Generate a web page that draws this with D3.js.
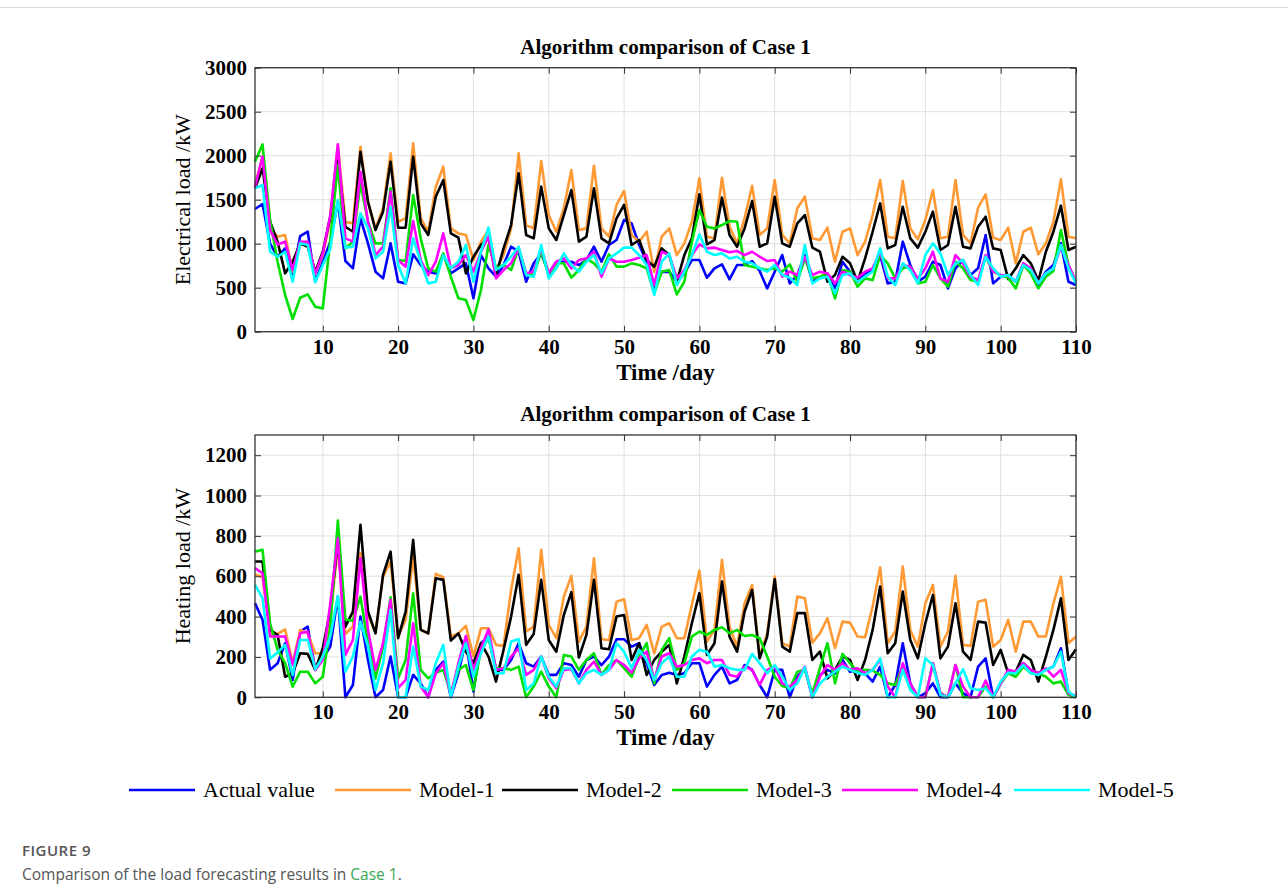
<!DOCTYPE html>
<html><head><meta charset="utf-8">
<script src="https://cdn.jsdelivr.net/npm/d3@7/dist/d3.min.js"></script>
<style>body{margin:0;background:#fff;} svg{display:block;}</style>
</head><body>
<svg id="c" width="1288" height="890"></svg>
<script>
// ---------------- DATA ----------------
const days = d3.range(1, 111);
const xTickValues = [10,20,30,40,50,60,70,80,90,100,110];
const elecTicks = [0,500,1000,1500,2000,2500,3000];
const heatTicks = [0,200,400,600,800,1000,1200];
const seriesNames = ["Actual value","Model-1","Model-2","Model-3","Model-4","Model-5"];

const elecActual = [1394,1451,1000,852,947,644,1087,1136,568,795,1023,1477,803,720,1288,1004,682,606,1004,568,549,879,758,682,663,879,663,720,
 777,379,871,720,625,758,966,909,568,777,890,663,795,795,795,758,814,966,795,985,1042,1269,1231,985,795,492,682,680,
 568,663,814,814,614,720,765,595,758,758,803,689,492,682,871,549,644,871,568,614,644,492,795,682,568,663,701,871,
 549,568,1023,758,568,625,795,758,492,720,814,644,720,1099,549,625,644,568,758,682,530,682,758,1004,568,530];
const elecM1 = [1667,1989,1174,1080,1099,682,985,1004,663,871,1269,2121,1250,1231,2102,1477,1174,1402,2027,1250,1288,2140,1288,1136,1648,1875,1174,1117,
 1099,814,1023,1155,701,871,1174,2027,1212,1174,1939,1326,1136,1402,1837,1155,1174,1886,1174,1080,1440,1599,1099,1023,1136,682,1080,1174,
 871,1004,1250,1742,1080,1061,1750,1193,1004,1288,1659,1099,1174,1724,1099,1004,1402,1534,1061,1042,1182,795,1136,1174,871,1023,1326,1724,
 1080,1061,1712,1174,1049,1269,1610,1061,1080,1724,1099,1004,1409,1561,1068,1042,1182,777,1136,1182,879,1004,1250,1731,1080,1061];
const elecM2 = [1629,1856,1250,1023,663,795,1004,966,682,909,1307,1989,1193,1136,2045,1477,1155,1364,1932,1182,1182,1989,1231,1099,1534,1724,1117,1068,
 663,852,985,1061,644,947,1212,1799,1099,1061,1648,1174,1042,1326,1610,1023,1080,1629,1061,1004,1288,1440,985,1042,814,739,947,871,
 568,871,1061,1561,992,1042,1523,1099,966,1174,1485,966,1004,1534,1004,966,1231,1326,955,909,568,644,852,777,568,833,1136,1458,
 947,985,1420,1061,955,1136,1364,928,985,1420,966,947,1193,1307,947,928,598,720,871,777,576,909,1136,1432,928,966];
const elecM3 = [1932,2129,1269,795,417,144,386,424,284,265,1042,1894,947,1023,1686,1250,1004,1004,1629,814,803,1553,1061,720,682,890,625,380,
 360,133,474,985,720,758,701,947,663,644,909,644,777,777,614,701,833,777,682,879,739,739,777,758,720,436,682,701,
 424,568,1023,1383,1193,1174,1212,1258,1250,758,739,720,701,720,682,765,568,833,606,625,663,379,701,682,511,606,587,871,
 777,606,720,739,549,568,758,606,511,795,720,587,568,852,682,644,614,492,758,663,492,625,689,1155,758,568];
const elecM4 = [1648,1989,1155,992,1023,701,1023,1023,663,890,1326,2129,1061,1023,1818,1250,871,966,1591,814,739,1258,814,644,795,1117,720,758,
 871,682,909,1080,606,701,777,947,663,682,947,663,795,833,720,814,833,909,625,833,795,795,814,841,871,530,909,871,
 606,701,871,992,947,955,928,902,917,871,909,852,803,814,625,682,644,852,644,682,663,549,682,644,614,682,720,909,
 606,606,758,739,606,720,909,606,568,871,777,625,587,871,682,644,636,568,777,720,549,663,720,966,758,568];
const elecM5 = [1629,1667,909,852,909,568,1004,985,561,758,947,1496,955,966,1345,1174,833,909,1420,758,549,1061,795,549,568,871,720,795,
 985,568,909,1182,701,758,852,966,644,625,985,606,720,890,758,682,795,871,663,833,890,955,955,871,758,417,795,890,
 530,682,871,1106,909,871,890,833,852,795,777,720,682,758,644,614,530,985,549,606,625,436,644,663,568,625,682,947,
 625,530,777,701,549,871,1004,890,644,777,814,644,530,852,720,625,644,568,758,701,549,663,720,985,720,549];

const heatActual = [466,384,136,169,268,86,326,350,136,193,251,499,0,61,400,185,0,36,202,0,0,111,69,0,136,177,0,119,
 284,28,268,301,136,136,185,268,169,152,202,111,111,169,160,102,185,202,160,202,288,288,251,268,169,61,111,122,
 111,119,169,169,53,111,152,69,86,160,136,61,0,136,136,0,102,144,0,111,136,119,185,127,136,119,78,152,
 0,61,268,69,0,20,69,0,0,69,20,0,152,193,0,69,127,127,169,136,119,136,152,243,20,0];
const heatM1 = [607,598,309,314,337,169,334,317,218,218,384,755,314,350,714,408,321,598,673,301,384,698,337,317,612,595,301,317,
 354,202,342,342,260,255,532,739,326,350,731,359,293,499,602,276,350,689,288,284,474,486,284,293,359,218,350,367,
 293,293,458,628,276,334,681,350,251,466,557,202,317,598,268,251,499,491,271,317,392,243,375,370,301,298,450,644,
 268,326,648,334,251,466,557,251,326,602,260,255,474,483,251,284,384,226,375,375,301,301,466,598,268,301];
const heatM2 = [673,673,334,309,102,119,218,215,136,243,433,772,350,425,855,425,317,607,722,293,425,780,334,317,590,582,281,317,
 226,169,268,202,78,235,400,607,260,314,582,284,226,408,521,197,309,582,243,238,400,408,185,268,111,185,226,260,
 69,202,367,516,210,268,574,301,226,425,532,193,301,585,251,226,417,417,185,226,94,136,202,185,86,185,334,549,
 218,268,524,284,193,367,507,193,251,466,226,185,375,370,160,235,119,127,210,185,78,202,334,491,185,238];
const heatM3 = [722,731,367,235,169,53,127,127,69,102,350,876,384,380,499,268,94,251,496,94,185,516,136,94,122,136,20,136,
 160,36,235,293,144,144,136,152,0,53,127,53,0,210,202,136,185,218,111,160,185,144,102,202,268,69,235,293,
 136,169,301,326,309,334,347,317,334,304,309,293,202,102,56,45,127,136,20,144,268,69,215,169,127,136,132,111,
 69,61,152,45,0,0,169,20,0,160,0,0,0,53,0,69,119,102,152,119,119,102,69,78,12,0];
const heatM4 = [640,615,301,301,301,160,317,326,136,185,466,788,210,284,689,334,136,268,483,45,86,367,53,0,119,169,12,169,
 304,136,243,337,136,144,202,243,111,136,202,94,45,136,139,69,136,177,111,136,185,160,122,193,226,86,202,218,
 152,160,185,193,169,185,185,111,102,152,136,61,136,152,69,53,86,152,0,102,160,136,169,136,144,119,136,185,
 53,0,169,69,0,0,169,20,0,160,53,0,0,83,0,69,136,127,169,136,119,144,102,136,20,7];
const heatM5 = [557,491,193,222,260,111,284,284,139,202,301,502,127,202,375,251,36,169,433,0,0,251,53,36,169,260,0,152,
 268,102,218,301,119,119,276,288,36,69,202,102,53,144,144,69,119,136,111,136,268,226,144,235,185,86,169,202,
 102,102,202,235,226,152,160,144,136,136,215,169,119,160,102,36,69,149,0,69,102,127,152,136,122,111,136,193,
 0,0,136,36,0,193,160,12,0,69,139,45,36,45,0,78,122,119,160,119,111,136,152,226,28,0];

// ---------------- STYLE ----------------
const colors = ["#0000ff","#ff9933","#000000","#00e000","#ff00ff","#00ffff"];
const serif = "'Liberation Serif','Times New Roman',serif";

const svg = d3.select("#c");
svg.append("line").attr("x1",0).attr("x2",1288).attr("y1",7.5).attr("y2",7.5)
  .attr("stroke","#dcdcdc").attr("stroke-width",1);

const xLeft = 255, xRight = 1076;
const x = d3.scaleLinear().domain([1,110]).range([xLeft,xRight]);

function panel(opts){
  const {top,bottom,yMax,yTicks,title,ylabel,series} = opts;
  const y = d3.scaleLinear().domain([0,yMax]).range([bottom,top]);
  const g = svg.append("g");
  // grid
  g.append("g").selectAll("line").data(xTickValues).join("line")
    .attr("x1",d=>x(d)).attr("x2",d=>x(d)).attr("y1",top).attr("y2",bottom)
    .attr("stroke","#e0e0e0").attr("stroke-width",1);
  g.append("g").selectAll("line").data(yTicks).join("line")
    .attr("x1",xLeft).attr("x2",xRight).attr("y1",d=>y(d)).attr("y2",d=>y(d))
    .attr("stroke","#e0e0e0").attr("stroke-width",1);
  // lines
  const line = d3.line().x((d,i)=>x(days[i])).y(d=>y(d));
  series.forEach((s,k)=>{
    g.append("path").datum(s).attr("d",line).attr("fill","none")
      .attr("stroke",colors[k]).attr("stroke-width",2.6).attr("stroke-linejoin","round");
  });
  // axes
  const ax = g.append("g").attr("transform",`translate(0,${bottom})`)
    .call(d3.axisBottom(x).tickValues(xTickValues).tickSizeInner(-6).tickSizeOuter(0).tickPadding(7).tickFormat(d3.format("d")));
  const axT = g.append("g").attr("transform",`translate(0,${top})`)
    .call(d3.axisTop(x).tickValues(xTickValues).tickSizeInner(-6).tickSizeOuter(0).tickFormat(""));
  const ay = g.append("g").attr("transform",`translate(${xLeft},0)`)
    .call(d3.axisLeft(y).tickValues(yTicks).tickSizeInner(-6).tickSizeOuter(0).tickPadding(8).tickFormat(d3.format("d")));
  const ayR = g.append("g").attr("transform",`translate(${xRight},0)`)
    .call(d3.axisRight(y).tickValues(yTicks).tickSizeInner(-6).tickSizeOuter(0).tickFormat(""));
  [ax,axT,ay,ayR].forEach(a=>{
    a.select(".domain").remove();
    a.selectAll(".tick line").attr("stroke","#333");
    a.selectAll("text").attr("font-family",serif).attr("font-weight","bold")
      .attr("font-size",21).attr("fill","#000");
  });
  g.append("rect").attr("x",xLeft).attr("y",top).attr("width",xRight-xLeft).attr("height",bottom-top)
    .attr("fill","none").attr("stroke","#333").attr("stroke-width",1.3);
  // title
  g.append("text").attr("x",(xLeft+xRight)/2).attr("y",top-14).attr("text-anchor","middle")
    .attr("font-family",serif).attr("font-weight","bold").attr("font-size",21).text(title);
  g.append("text").attr("x",(xLeft+xRight)/2).attr("y",bottom+48).attr("text-anchor","middle")
    .attr("font-family",serif).attr("font-weight","bold").attr("font-size",23).text("Time /day");
  g.append("text").attr("transform",`translate(190,${(top+bottom)/2}) rotate(-90)`)
    .attr("text-anchor","middle").attr("font-family",serif).attr("font-size",22).text(ylabel);
}

panel({top:67.7,bottom:331.7,yMax:3000,yTicks:elecTicks,title:"Algorithm comparison of Case 1",
  ylabel:"Electrical load /kW",series:[elecActual,elecM1,elecM2,elecM3,elecM4,elecM5]});
panel({top:435,bottom:697.3,yMax:1300,yTicks:heatTicks,title:"Algorithm comparison of Case 1",
  ylabel:"Heating load /kW",series:[heatActual,heatM1,heatM2,heatM3,heatM4,heatM5]});

// legend
const legX = [129,335,502,672,842,1014];
const leg = svg.append("g");
seriesNames.forEach((n,k)=>{
  const lineLen = k===0 ? 66 : 76;
  leg.append("line").attr("x1",legX[k]).attr("x2",legX[k]+lineLen).attr("y1",790).attr("y2",790)
    .attr("stroke",colors[k]).attr("stroke-width",2.6);
  leg.append("text").attr("x",legX[k]+lineLen+8).attr("y",797).attr("font-family",serif)
    .attr("font-size",22).text(n);
});

// caption
svg.append("text").attr("x",22).attr("y",856).attr("font-family","'Open Sans','Noto Sans',sans-serif")
  .attr("font-size",15).attr("font-weight",600).attr("fill","#555").attr("letter-spacing",0.5).text("FIGURE 9");
const cap = svg.append("text").attr("x",22).attr("y",880).attr("font-family","'Open Sans','Noto Sans',sans-serif")
  .attr("font-size",15.5).attr("fill","#555");
cap.append("tspan").text("Comparison of the load forecasting results in ");
cap.append("tspan").attr("fill","#3aa655").text("Case 1");
cap.append("tspan").text(".");
</script>
</body></html>
